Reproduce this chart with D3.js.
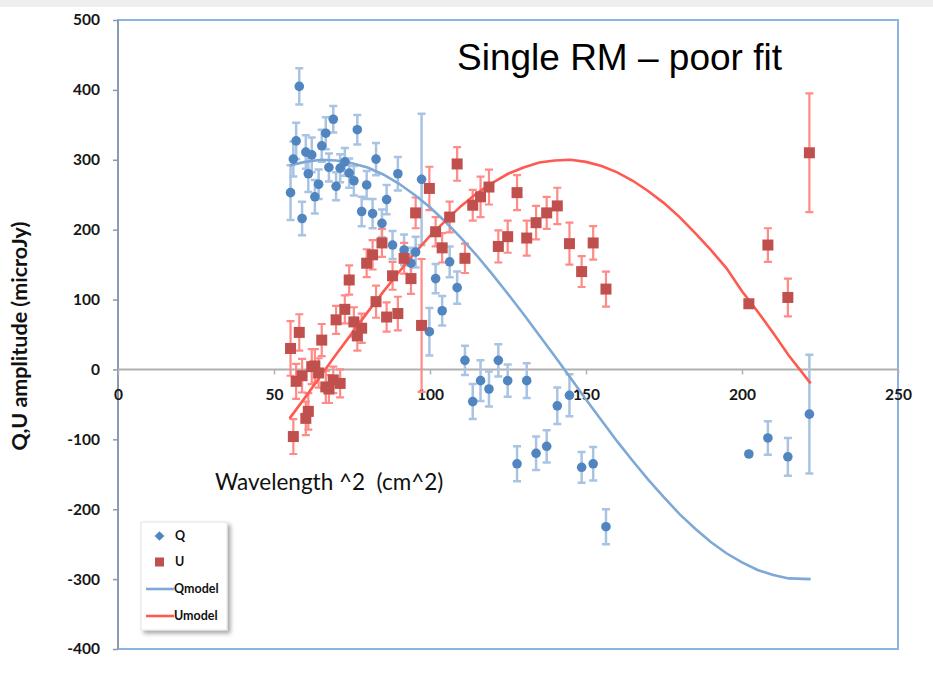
<!DOCTYPE html>
<html>
<head>
<meta charset="utf-8">
<script src="https://cdn.jsdelivr.net/npm/d3@7"></script>
<style>
  html, body { margin: 0; padding: 0; background: #ffffff; }
  svg { display: block; }
</style>
</head>
<body>
<svg id="chart" width="933" height="675"></svg>
<script>
// Observed Stokes Q and U vs wavelength squared, with 1-sigma errors
const lambda2 = [55.3, 56.2, 57.1, 58.1, 59.0, 60.2, 61.0, 62.1, 63.1, 64.3, 65.3, 66.6, 67.6, 69.0, 69.9,
  71.2, 72.7, 74.1, 75.6, 76.7, 78.1, 79.7, 81.6, 82.7, 84.6, 86.1, 88.0, 89.7, 91.7, 93.9, 95.4, 97.3,
  99.8, 101.8, 103.9, 106.3, 108.7, 111.2, 113.7, 116.2, 118.9, 121.9, 124.9, 127.9, 131.0, 134.0, 137.4,
  140.8, 144.7, 148.6, 152.3, 156.4, 202.2, 208.3, 214.7, 221.6];
const qValues = [253, 301, 327, 405, 216, 311, 280, 307, 247, 265, 320, 338, 289, 358, 262,
  288, 297, 281, 270, 343, 226, 264, 223, 301, 209, 243, 178, 280, 171, 152, 168, 272,
  54, 130, 84, 154, 117, 13, -46, -16, -28, 13, -16, -135, -16, -120, -110,
  -52, -37, -140, -135, -225, -121, -98, -125, -64];
const qErrors = [39, 25, 26, 26, 24, 24, 26, 25, 24, 21, 23, 23, 20, 19, 20,
  20, 20, 21, 21, 21, 21, 20, 21, 23, 20, 21, 20, 24, 22, 22, 22, 94,
  34, 21, 21, 22, 23, 21, 25, 29, 25, 23, 23, 25, 25, 24, 23,
  26, 30, 22, 24, 25, 3, 24, 27, 85];
const uValues = [30, -96, -17, 53, -9, -70, -60, 4, 5, -5, 42, -25, -28, -15, 71,
  -20, 86, 128, 68, 48, 59, 152, 164, 97, 181, 75, 134, 80, 159, 130, 224, 63,
  259, 197, 174, 218, 294, 159, 235, 247, 261, 176, 190, 253, 188, 210, 224,
  234, 180, 140, 181, 115, 94, 178, 103, 310];
const uErrors = [39, 25, 25, 26, 24, 24, 26, 25, 24, 21, 23, 23, 20, 19, 20,
  20, 20, 21, 21, 21, 21, 20, 21, 23, 20, 21, 20, 24, 22, 22, 22, 95,
  31, 21, 21, 22, 24, 21, 22, 29, 25, 23, 23, 25, 25, 24, 23,
  26, 30, 22, 24, 25, 3, 24, 27, 85];

// Single rotation-measure model curves
const modelLambda2 = [55, 60, 65, 70, 75, 80, 85, 90, 95, 100, 105, 110, 115, 120, 125, 130, 135,
  140, 145, 150, 155, 160, 165, 170, 175, 180, 185, 190, 195, 200, 205, 210, 215, 222];
const qModel = [292, 297, 300, 299, 295, 289, 279, 266, 250, 232, 211, 188, 163, 136, 108, 79, 49,
  19, -12, -43, -73, -103, -131, -158, -183, -207, -228, -247, -263, -276, -287, -294, -299, -300];
const uModel = [-70, -40, -9, 22, 52, 82, 111, 139, 166, 191, 213, 234, 252, 267, 280, 289, 296,
  299, 300, 297, 291, 282, 270, 255, 238, 218, 195, 171, 145, 112, 83, 52, 20, -20];

const xTicks = [0, 50, 100, 150, 200, 250];
const yTicks = [-400, -300, -200, -100, 0, 100, 200, 300, 400, 500];
const legendItems = ["Q", "U", "Qmodel", "Umodel"];

const svg = d3.select("#chart");
const plotLeft = 118, plotRight = 898, plotTop = 20, plotBottom = 649;
const x = d3.scaleLinear().domain([0, 250]).range([plotLeft, plotRight]);
const y = d3.scaleLinear().domain([-400, 500]).range([plotBottom, plotTop]);

const colQ = "#5085c0", colQbar = "#a9c3e3", colQline = "#7ea8d6";
const colU = "#c0504d", colUbar = "#ff8a86", colUline = "#ff5a50";
const fontAxis = "Lato, 'Open Sans', sans-serif";
const plainNumber = d => String(d);

const defs = svg.append("defs");
const sh = defs.append("filter").attr("id", "shadow").attr("x", "-20%").attr("y", "-20%")
  .attr("width", "150%").attr("height", "150%");
sh.append("feDropShadow").attr("dx", 3).attr("dy", 3).attr("stdDeviation", 2)
  .attr("flood-color", "#000").attr("flood-opacity", 0.35);

// light band along the top edge of the page
svg.append("rect").attr("x", 0).attr("y", 0).attr("width", 933).attr("height", 7).attr("fill", "#efefef");

// plot frame
svg.append("rect").attr("x", plotLeft).attr("y", plotTop).attr("width", plotRight - plotLeft)
  .attr("height", plotBottom - plotTop)
  .attr("fill", "#fff").attr("stroke", "#8db3e2").attr("stroke-width", 2);

// y axis
const yAxis = svg.append("g").attr("transform", `translate(${plotLeft},0)`)
  .call(d3.axisLeft(y).tickValues(yTicks).tickSize(5).tickPadding(13).tickFormat(plainNumber));
yAxis.select(".domain").attr("stroke", "#8a9ab0").attr("stroke-width", 2).attr("d", `M0,${plotTop}V${plotBottom}`);
yAxis.selectAll(".tick line").attr("stroke", "#8a9ab0").attr("stroke-width", 1.5);
yAxis.selectAll(".tick text").attr("font-family", fontAxis).attr("font-size", 15.5)
  .attr("font-weight", "bold").attr("fill", "#161616");

// x axis drawn along Q,U = 0
const xAxis = svg.append("g").attr("transform", `translate(0,${y(0)})`)
  .call(d3.axisBottom(x).tickValues(xTicks).tickSize(5).tickPadding(15).tickFormat(plainNumber));
xAxis.select(".domain").attr("stroke", "#b0b0b0").attr("stroke-width", 2).attr("d", `M${plotLeft},0H${plotRight}`);
xAxis.selectAll(".tick line").attr("stroke", "#b0b0b0").attr("stroke-width", 1.5);
xAxis.selectAll(".tick text").attr("font-family", fontAxis).attr("font-size", 15.5)
  .attr("font-weight", "bold").attr("fill", "#161616");

// error bars
function errorBars(vals, errs, color, width) {
  const g = svg.append("g").attr("stroke", color).attr("stroke-width", width).attr("fill", "none");
  lambda2.forEach((l, i) => {
    const cx = x(l), y1 = y(vals[i] + errs[i]), y2 = y(vals[i] - errs[i]);
    g.append("path").attr("d", `M${cx},${y1}V${y2}M${cx - 4},${y1}H${cx + 4}M${cx - 4},${y2}H${cx + 4}`);
  });
}
errorBars(qValues, qErrors, colQbar, 2.5);
errorBars(uValues, uErrors, colUbar, 2.2);

// model lines
const line = d3.line().x(d => x(d[0])).y(d => y(d[1]));
svg.append("path").datum(modelLambda2.map((l, i) => [l, qModel[i]]))
  .attr("d", line).attr("fill", "none").attr("stroke", colQline).attr("stroke-width", 2.6);
svg.append("path").datum(modelLambda2.map((l, i) => [l, uModel[i]]))
  .attr("d", line).attr("fill", "none").attr("stroke", colUline).attr("stroke-width", 2.6);

// markers
svg.append("g").selectAll("circle").data(lambda2).join("circle")
  .attr("cx", d => x(d)).attr("cy", (d, i) => y(qValues[i])).attr("r", 4.8).attr("fill", colQ);
svg.append("g").selectAll("rect").data(lambda2).join("rect")
  .attr("x", d => x(d) - 5.5).attr("y", (d, i) => y(uValues[i]) - 5.5)
  .attr("width", 11).attr("height", 11).attr("fill", colU);

// titles
svg.append("text").attr("x", 457).attr("y", 70).attr("font-family", "'Liberation Sans', Arial, sans-serif")
  .attr("font-size", 37).attr("fill", "#000").text("Single RM – poor fit");
svg.append("text").attr("x", 215).attr("y", 490).attr("font-family", fontAxis)
  .style("white-space", "pre").attr("font-size", 22.5).attr("fill", "#111").text("Wavelength ^2  (cm^2)");
svg.append("text").attr("transform", "translate(27,336) rotate(-90)").attr("text-anchor", "middle")
  .attr("font-family", fontAxis).attr("font-size", 21.5).attr("font-weight", "bold").attr("fill", "#111")
  .text("Q,U amplitude (microJy)");

// legend
const lg = svg.append("g");
lg.append("rect").attr("x", 141).attr("y", 522).attr("width", 86).attr("height", 108)
  .attr("fill", "#fff").attr("stroke", "#e4e4e4").attr("filter", "url(#shadow)");
const rowsY = [536, 562, 589, 616];
legendItems.forEach((name, i) => {
  const yy = rowsY[i];
  if (i === 0) {
    lg.append("path").attr("d", d3.symbol(d3.symbolDiamond2, 60)()).attr("fill", colQ)
      .attr("transform", `translate(159.5,${yy})`);
  } else if (i === 1) {
    lg.append("rect").attr("x", 155).attr("y", yy - 4.5).attr("width", 9).attr("height", 9).attr("fill", colU);
  } else {
    lg.append("line").attr("x1", 146).attr("x2", 174).attr("y1", yy).attr("y2", yy)
      .attr("stroke", i === 2 ? colQline : colUline).attr("stroke-width", 2.6);
  }
  lg.append("text").attr("x", i < 2 ? 175 : 174).attr("y", yy + 4).attr("font-family", fontAxis)
    .attr("font-size", 12.5).attr("font-weight", "bold").attr("fill", "#111").text(name);
});
</script>
</body>
</html>
